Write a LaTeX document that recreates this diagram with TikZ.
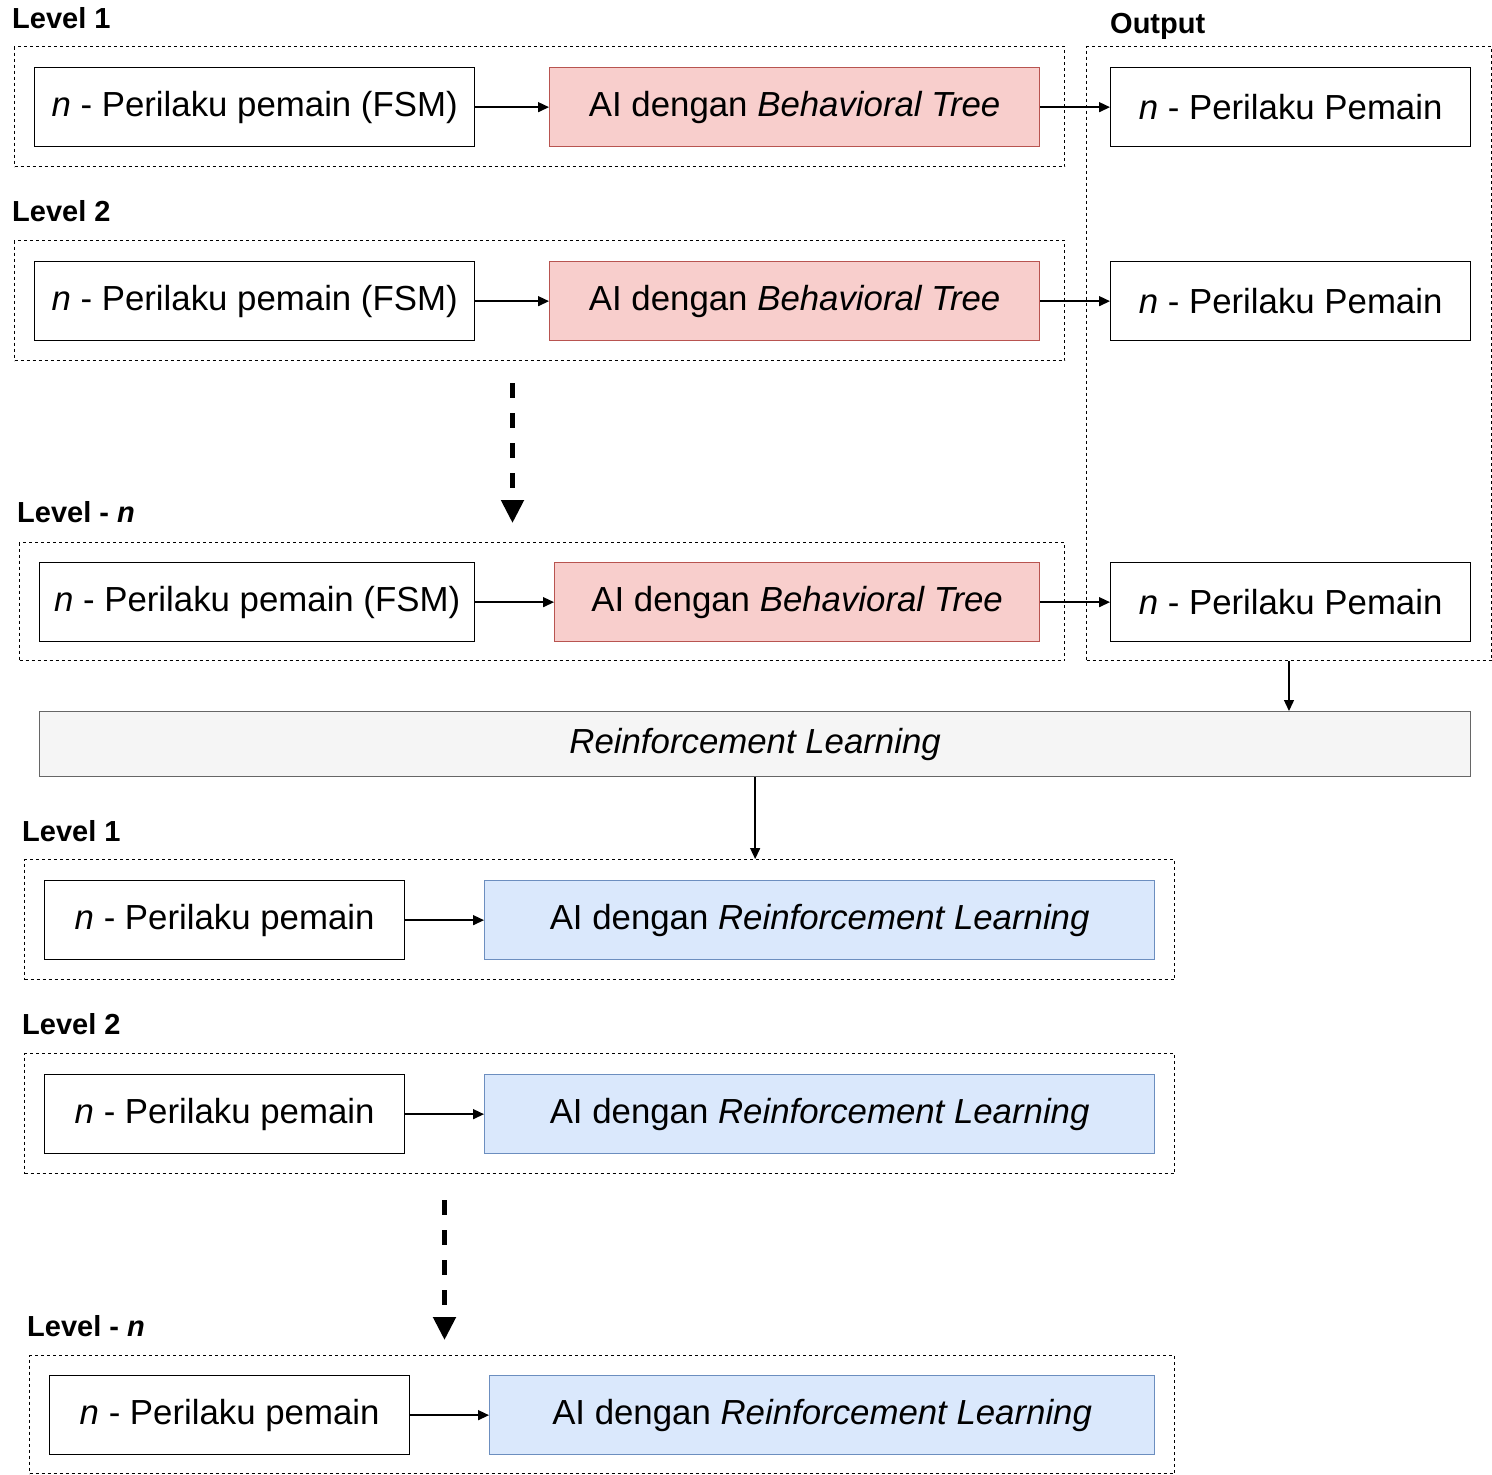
\documentclass[tikz,border=0pt]{standalone}
\usepackage{fontspec}
\setmainfont{Liberation Sans}
\usetikzlibrary{arrows.meta}
\definecolor{btfill}{HTML}{F8CECC}
\definecolor{btline}{HTML}{B85450}
\definecolor{rlfill}{HTML}{DAE8FC}
\definecolor{rlline}{HTML}{6C8EBF}
\definecolor{grfill}{HTML}{F5F5F5}
\definecolor{grline}{HTML}{666666}
\tikzset{
  container/.style={draw=black, line width=1pt, dash pattern=on 3pt off 3pt, anchor=north west, inner sep=0pt},
  plainbox/.style={draw=black, line width=1.3pt, fill=white, anchor=north west, inner sep=0pt, font=\fontsize{34.8}{40}\selectfont},
  btbox/.style={plainbox, fill=btfill, draw=btline},
  rlbox/.style={plainbox, fill=rlfill, draw=rlline},
  graybox/.style={plainbox, fill=grfill, draw=grline},
  lvl/.style={anchor=base west, inner sep=0pt, font=\fontsize{29}{34}\selectfont\bfseries},
  conn/.style={line width=1.4pt, -{Triangle[length=11pt,width=10pt]}},
  bigdash/.style={line width=5pt, dash pattern=on 15pt off 15pt, -{Triangle[length=23pt,width=22pt]}},
}
\begin{document}
\begin{tikzpicture}[x=1pt,y=-1pt]
\useasboundingbox (0,0) rectangle (1492,1475);

% ---------- upper part ----------
\node[lvl] (l1) at (12,28.5) {Level 1};
\node[lvl] (lout) at (1110,33) {Output};
\node[container, minimum width=1050pt, minimum height=120pt] (c1) at (14,46) {};
\node[container, minimum width=405pt, minimum height=614pt] (outc) at (1086,46) {};
\node[plainbox, minimum width=440pt, minimum height=79pt] (f1) at (34,67) {\textit{n} - Perilaku pemain (FSM)};
\node[btbox, minimum width=490pt, minimum height=79pt] (b1) at (549,67) {AI dengan \textit{Behavioral Tree}};
\node[plainbox, minimum width=360pt, minimum height=79pt] (o1) at (1110,67) {\textit{n} - Perilaku Pemain};

\node[lvl] (l2) at (12,221) {Level 2};
\node[container, minimum width=1050pt, minimum height=120pt] (c2) at (14,240) {};
\node[plainbox, minimum width=440pt, minimum height=79pt] (f2) at (34,261) {\textit{n} - Perilaku pemain (FSM)};
\node[btbox, minimum width=490pt, minimum height=79pt] (b2) at (549,261) {AI dengan \textit{Behavioral Tree}};
\node[plainbox, minimum width=360pt, minimum height=79pt] (o2) at (1110,261) {\textit{n} - Perilaku Pemain};

\coordinate (d1s) at (512.5,383);
\coordinate (d1e) at (512.5,523);
\draw[bigdash] (d1s) -- (d1e);

\node[lvl] (l3) at (17,522.5) {Level - \textit{n}};
\node[container, minimum width=1045pt, minimum height=118pt] (c3) at (19,542) {};
\node[plainbox, minimum width=435pt, minimum height=79pt] (f3) at (39,562) {\textit{n} - Perilaku pemain (FSM)};
\node[btbox, minimum width=485pt, minimum height=79pt] (b3) at (554,562) {AI dengan \textit{Behavioral Tree}};
\node[plainbox, minimum width=360pt, minimum height=79pt] (o3) at (1110,562) {\textit{n} - Perilaku Pemain};

\draw[conn] (f1) -- (b1);
\draw[conn] (b1) -- (o1);
\draw[conn] (f2) -- (b2);
\draw[conn] (b2) -- (o2);
\draw[conn] (f3) -- (b3);
\draw[conn] (b3) -- (o3);

% ---------- RL bar ----------
\node[graybox, minimum width=1431pt, minimum height=65pt] (rl) at (39,711) {\textit{Reinforcement Learning}};
\draw[conn] (outc.south) -- (outc.south |- rl.north);

% ---------- lower part ----------
\node[lvl] (m1) at (22,841) {Level 1};
\node[container, minimum width=1150pt, minimum height=120pt] (c4) at (24,859) {};
\node[plainbox, minimum width=360pt, minimum height=79pt] (p1) at (44,880) {\textit{n} - Perilaku pemain};
\node[rlbox, minimum width=670pt, minimum height=79pt] (r1) at (484,880) {AI dengan \textit{Reinforcement Learning}};

\node[lvl] (m2) at (22,1034) {Level 2};
\node[container, minimum width=1150pt, minimum height=120pt] (c5) at (24,1053) {};
\node[plainbox, minimum width=360pt, minimum height=79pt] (p2) at (44,1074) {\textit{n} - Perilaku pemain};
\node[rlbox, minimum width=670pt, minimum height=79pt] (r2) at (484,1074) {AI dengan \textit{Reinforcement Learning}};

\coordinate (d2s) at (444.5,1200);
\coordinate (d2e) at (444.5,1340);
\draw[bigdash] (d2s) -- (d2e);

\node[lvl] (m3) at (27,1336) {Level - \textit{n}};
\node[container, minimum width=1145pt, minimum height=118pt] (c6) at (29,1355) {};
\node[plainbox, minimum width=360pt, minimum height=79pt] (p3) at (49,1375) {\textit{n} - Perilaku pemain};
\node[rlbox, minimum width=665pt, minimum height=79pt] (r3) at (489,1375) {AI dengan \textit{Reinforcement Learning}};

\draw[conn] (rl.south) -- (rl.south |- c4.north);
\draw[conn] (p1) -- (r1);
\draw[conn] (p2) -- (r2);
\draw[conn] (p3) -- (r3);
\end{tikzpicture}
\end{document}
